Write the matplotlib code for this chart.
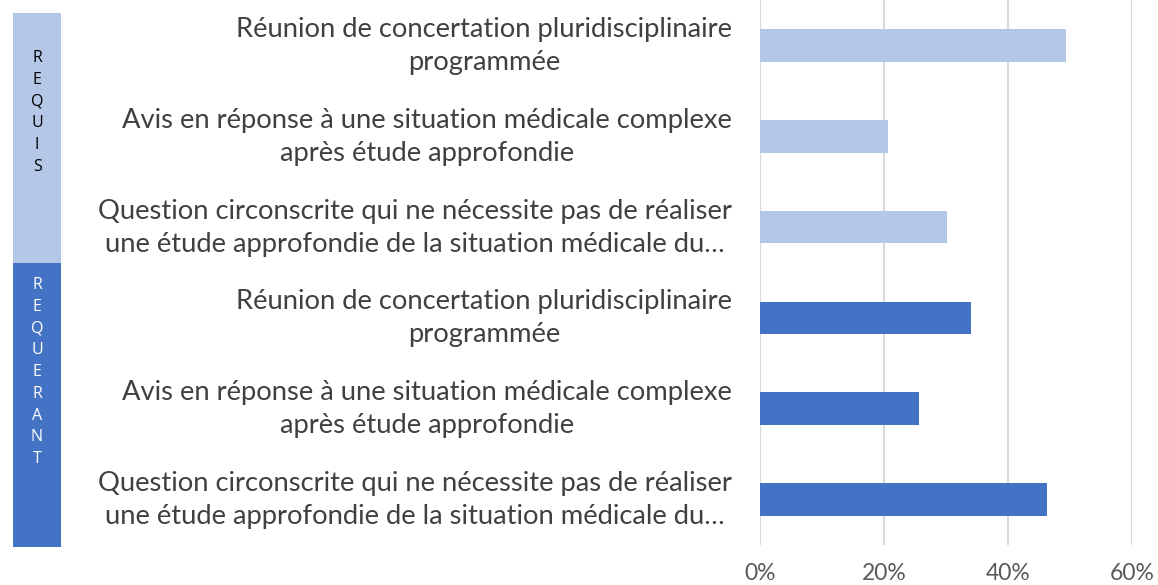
import matplotlib
matplotlib.use('Agg')
import matplotlib.pyplot as plt
import matplotlib.transforms as mtransforms
from matplotlib.patches import Rectangle

# Données (lecture du graphique)
categories = [
    'Réunion de concertation pluridisciplinaire\nprogrammée',
    'Avis en réponse à une situation médicale complexe\naprès étude approfondie',
    'Question circonscrite qui ne nécessite pas de réaliser\nune étude approfondie de la situation médicale du…',
    'Réunion de concertation pluridisciplinaire\nprogrammée',
    'Avis en réponse à une situation médicale complexe\naprès étude approfondie',
    'Question circonscrite qui ne nécessite pas de réaliser\nune étude approfondie de la situation médicale du…',
]
values = [49.3, 20.6, 30.1, 34.1, 25.6, 46.3]
groups = ['REQUIS', 'REQUIS', 'REQUIS', 'REQUERANT', 'REQUERANT', 'REQUERANT']
group_names = ['REQUIS', 'REQUERANT']
xticks = [0, 20, 40, 60]

light = '#B4C7E7'
dark = '#4472C4'
colors = [light if g == 'REQUIS' else dark for g in groups]

plt.rcParams['font.family'] = ['Lato', 'DejaVu Sans']

fig = plt.figure(figsize=(11.58, 5.85), dpi=100)
ax = fig.add_axes([760 / 1158, 1 - 545 / 585, (1132 - 760) / 1158, 545 / 585])

ypos = list(range(len(categories)))
ax.barh(ypos, values, height=0.36, color=colors, zorder=3)
ax.set_ylim(len(categories) - 0.5, -0.5)
ax.set_xlim(0, 60)

ax.set_xticks(xticks)
ax.set_xticklabels([f'{t}%' for t in xticks], fontsize=16.5, color='#595959')
ax.tick_params(axis='x', length=0, pad=13)
ax.set_yticks(ypos)
ax.set_yticklabels(categories, fontsize=19.7, color='#404040', multialignment='center',
                   linespacing=1.4)
ax.tick_params(axis='y', length=0, pad=20)
# remonter un peu les libellés pour les centrer sur les barres
shift = mtransforms.ScaledTranslation(0, 6 / 100, fig.dpi_scale_trans)
for lab in ax.get_yticklabels():
    lab.set_transform(lab.get_transform() + shift)

ax.grid(axis='x', color='#D9D9D9', linewidth=1.5, zorder=0)
for s in ax.spines.values():
    s.set_visible(False)

# Boîtes des groupes à gauche
W, H = 1158, 585
boxes = [(13, 13, 263, 50, light, '#000000'), (13, 263, 547, 277, dark, '#FFFFFF')]
for name, (x0, y0, y1, ytxt, fc, tc) in zip(group_names, boxes):
    fig.patches.append(Rectangle((x0 / W, 1 - y1 / H), 48 / W, (y1 - y0) / H,
                                 transform=fig.transFigure, facecolor=fc, edgecolor='none'))
    fig.text((x0 + 24) / W, 1 - ytxt / H, '\n'.join(name), ha='center', va='top',
             fontsize=11.5, color=tc, linespacing=1.48, family=['Open Sans', 'DejaVu Sans'])

fig.savefig('out.png', dpi=100)
